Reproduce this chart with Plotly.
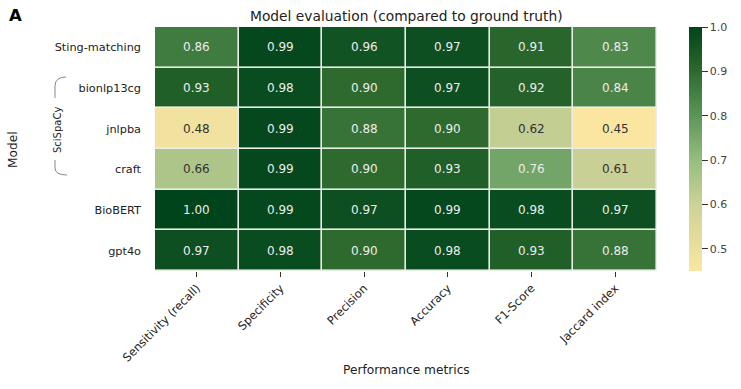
import plotly.graph_objects as go

metrics = ["Sensitivity (recall)", "Specificity", "Precision", "Accuracy", "F1-Score", "Jaccard index"]
models = ["Sting-matching", "bionlp13cg", "jnlpba", "craft", "BioBERT", "gpt4o"]
sting = [0.86, 0.99, 0.96, 0.97, 0.91, 0.83]
bionlp = [0.93, 0.98, 0.90, 0.97, 0.92, 0.84]
jnlpba = [0.48, 0.99, 0.88, 0.90, 0.62, 0.45]
craft = [0.66, 0.99, 0.90, 0.93, 0.76, 0.61]
biobert = [1.00, 0.99, 0.97, 0.99, 0.98, 0.97]
gpt4o = [0.97, 0.98, 0.90, 0.98, 0.93, 0.88]
values = [sting, bionlp, jnlpba, craft, biobert, gpt4o]
cbar_ticks = [0.5, 0.6, 0.7, 0.8, 0.9, 1.0]

ZMIN, ZMAX = 0.45, 1.0
colorscale = [
    [0.0, "#fae6a1"],
    [0.2727, "#cdd297"],
    [0.4545, "#97bd80"],
    [0.636, "#5c9558"],
    [0.818, "#2e6a2e"],
    [1.0, "#00441b"],
]

FONT = "DejaVu Sans"
W, H = 741, 389
L, T = 155, 27
R = W - 657
B = H - 271
PW, PH = W - L - R, H - T - B


def px(x):
    return (x - L) / PW


def py(y):
    return (H - B - y) / PH


fig = go.Figure()
fig.add_trace(go.Heatmap(
    z=values, x=metrics, y=models,
    zmin=ZMIN, zmax=ZMAX, colorscale=colorscale,
    xgap=1.6, ygap=1.6,
    colorbar=dict(
        thickness=13, len=1, lenmode="fraction",
        x=px(689), xanchor="left", xpad=0, y=1, yanchor="top", ypad=0,
        tickvals=cbar_ticks, tickformat=".1f",
        ticks="outside", ticklen=6, tickcolor="#333333",
        tickfont=dict(family=FONT, size=11, color="#444444"),
        outlinewidth=0,
    ),
    hoverinfo="skip",
))

annotations = []
for yi, row in enumerate(values):
    for xi, v in enumerate(row):
        col = "#333333" if v < 0.7 else "#ececec"
        annotations.append(dict(
            x=metrics[xi], y=models[yi], text=f"{v:.2f}", showarrow=False,
            font=dict(family=FONT, size=12, color=col), xref="x", yref="y",
        ))

annotations += [
    dict(text="<b>A</b>", x=px(7), y=py(16), xref="paper", yref="paper",
         xanchor="left", yanchor="middle", showarrow=False,
         font=dict(family=FONT, size=16.5, color="black")),
    dict(text="Model evaluation (compared to ground truth)", x=0.5, y=py(16),
         xref="paper", yref="paper", xanchor="center", yanchor="middle",
         showarrow=False, font=dict(family=FONT, size=13.8, color="#222222")),
    dict(text="SciSpaCy", x=px(57), y=py(130), xref="paper", yref="paper",
         textangle=-90, showarrow=False, xanchor="center", yanchor="middle",
         font=dict(family=FONT, size=10, color="#222222")),
    dict(text="Model", x=px(13), y=py(150), xref="paper", yref="paper",
         textangle=-90, showarrow=False, xanchor="center", yanchor="middle",
         font=dict(family=FONT, size=12.2, color="#222222")),
    dict(text="Performance metrics", x=0.5, y=py(370), xref="paper", yref="paper",
         showarrow=False, xanchor="center", yanchor="middle",
         font=dict(family=FONT, size=12.2, color="#222222")),
]

shapes = [
    dict(type="path", xref="paper", yref="paper",
         path=f"M {px(66)} {py(77)} Q {px(55)} {py(77)} {px(55)} {py(86)} L {px(55)} {py(98)}",
         line=dict(color="#888888", width=1)),
    dict(type="path", xref="paper", yref="paper",
         path=f"M {px(55)} {py(160)} L {px(55)} {py(168)} Q {px(55)} {py(175)} {px(67)} {py(175)}",
         line=dict(color="#888888", width=1)),
]

fig.update_layout(
    width=W, height=H,
    margin=dict(l=L, r=R, t=T, b=B, pad=0),
    paper_bgcolor="white", plot_bgcolor="#e9efe7",
    font=dict(family=FONT, size=11, color="#222222"),
    annotations=annotations, shapes=shapes,
    xaxis=dict(
        tickangle=-45, ticks="outside", ticklen=5, tickcolor="#333333",
        tickfont=dict(family=FONT, size=11.5, color="#222222"),
        automargin=False,
        showgrid=False, zeroline=False, showline=False,
    ),
    yaxis=dict(
        autorange="reversed", ticks="", ticklabelstandoff=13,
        tickfont=dict(family=FONT, size=11.3, color="#222222"),
        automargin=False,
        showgrid=False, zeroline=False, showline=False,
    ),
)

fig.write_html(
    "out.html",
    config={"displayModeBar": False},
    post_script="document.body.style.margin='0';document.body.style.overflow='hidden';",
)
